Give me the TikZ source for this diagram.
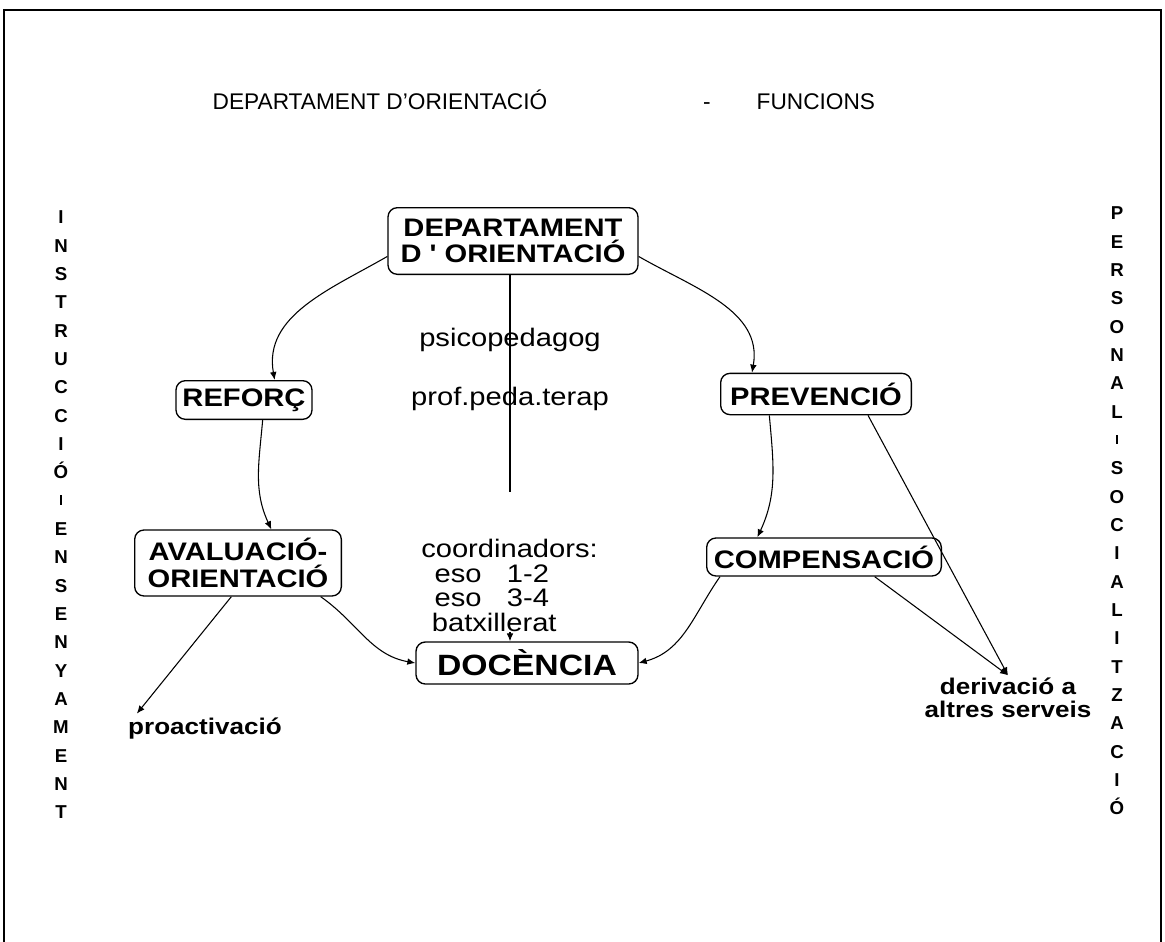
\documentclass[tikz,border=0pt]{standalone}
\usepackage{fontspec}
\setmainfont{Liberation Sans}
\newfontfamily\widefont[FakeStretch=1.15]{Liberation Sans}
\usetikzlibrary{arrows.meta}

\begin{document}
\begin{tikzpicture}[x=0.75pt, y=-0.75pt,
    box/.style={draw, line width=1pt, rounded corners=7pt, align=center, inner sep=0pt,
        font=\widefont\bfseries\fontsize{19}{20}\selectfont},
    plain/.style={font=\widefont\fontsize{19}{22.5}\selectfont},
    side/.style={align=center, font=\bfseries\fontsize{14}{21.25}\selectfont},
    arr/.style={-{Latex[length=6pt,width=5pt]}, line width=0.8pt}]
    \useasboundingbox (0,0) rectangle (1165,942);
    \draw[line width=1.5pt] (4,942) -- (4,10) -- (1161,10) -- (1161,942);

    % title
    \node[anchor=base west, font=\fontsize{17}{20}\selectfont] (title) at (208,110) {DEPARTAMENT D'ORIENTACIÓ};
    \node[anchor=base, font=\fontsize{17}{20}\selectfont] (dash) at (707,110) {-};
    \node[anchor=base west, font=\fontsize{17}{20}\selectfont] (funcions) at (752,110) {FUNCIONS};

    % side texts
    \node[side] (instr) at (61,515) {I\\N\\S\\T\\R\\U\\C\\C\\I\\Ó\\\raisebox{2pt}{\rule{1.2pt}{7pt}}\\E\\N\\S\\E\\N\\Y\\A\\M\\E\\N\\T};
    \node[side] (perso) at (1117,511) {P\\E\\R\\S\\O\\N\\A\\L\\\raisebox{2pt}{\rule{1.2pt}{7pt}}\\S\\O\\C\\I\\A\\L\\I\\T\\Z\\A\\C\\I\\Ó};

    % boxes
    \node[box, minimum width=187.5pt, minimum height=50pt] (dept) at (513,241) {DEPARTAMENT\\D ' ORIENTACIÓ};
    \node[box, minimum width=102pt, minimum height=29pt] (reforc) at (244,400) {REFORÇ};
    \node[box, minimum width=143pt, minimum height=31pt] (prev) at (816,394) {PREVENCIÓ};
    \node[box, minimum width=155pt, minimum height=49.5pt] (aval) at (238,563) {AVALUACIÓ-\\ORIENTACIÓ};
    \node[box, minimum width=176pt, minimum height=28.5pt] (comp) at (824,557) {COMPENSACIÓ};
    \node[box, minimum width=166.5pt, minimum height=31.5pt,
        font=\widefont\bfseries\fontsize{22}{24}\selectfont] (doc) at (527,663) {DOCÈNCIA};

    % members
    \node[plain] (psico) at (510,340) {psicopedagog};
    \node[plain] (prof) at (510,399) {prof.peda.terap};
    \node[plain, align=left, anchor=north west, inner sep=0pt, font=\widefont\fontsize{19}{18.5}\selectfont] (coord) at (421,539)
        {coordinadors:\\\hspace*{10pt}eso\hspace{13pt} 1-2\\\hspace*{10pt}eso\hspace{13pt} 3-4\\\hspace*{8pt}batxillerat};
    \coordinate (gap) at (510,492);

    % outer texts
    \node[font=\widefont\bfseries\fontsize{17}{17}\selectfont] (proact) at (205,729) {proactivació};
    \node[align=center, inner sep=2pt, font=\widefont\bfseries\fontsize{17}{17}\selectfont] (deriv) at (1008,698) {derivació a\\altres serveis};

    % connectors
    \draw[arr] (dept.187) to[out=210, in=100] ([xshift=23pt]reforc.north);
    \draw[arr] (dept.-7) to[out=-30, in=80] ([xshift=-48pt]prev.north);
    \draw[arr] ([xshift=14pt]reforc.south) to[out=-95, in=115] ([xshift=25pt]aval.north);
    \draw[arr] ([xshift=-35pt]prev.south) to[out=-85, in=65] ([xshift=-50pt]comp.north);
    \draw[arr] ([xshift=62pt]aval.south) to[out=-35, in=170] (doc.west);
    \draw[arr] ([xshift=-78pt]comp.south) to[out=-125, in=15] (doc.east);
    \draw[line width=0.8pt] (dept.south -| gap) -- (gap);
    \draw[arr] (coord.south -| gap) -- (gap |- doc.north);
    \draw[arr] ([xshift=-5pt]aval.south) -- ([xshift=10pt]proact.north west);
    \draw[arr] ([xshift=39pt]prev.south) -- (deriv.north);
    \draw[arr] ([xshift=38pt]comp.south) -- (deriv.north);
\end{tikzpicture}
\end{document}
